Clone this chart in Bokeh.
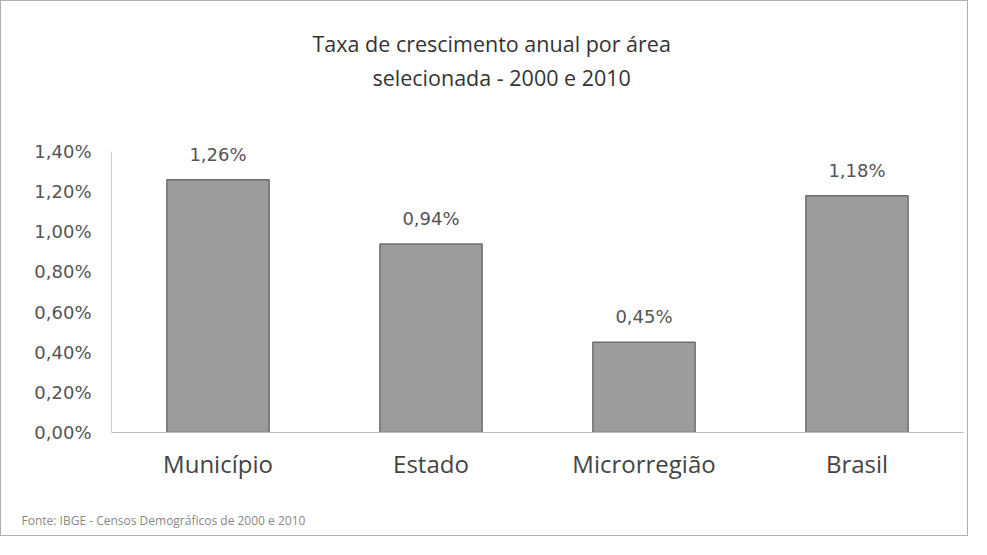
from bokeh.plotting import figure
from bokeh.models import ColumnDataSource, FixedTicker, LabelSet, Title
from bokeh.core.properties import value
from bokeh.embed import file_html
from bokeh.resources import INLINE

categories = ["Município", "Estado", "Microrregião", "Brasil"]
values = [1.26, 0.94, 0.45, 1.18]
value_labels = ["1,26%", "0,94%", "0,45%", "1,18%"]
tick_values = [0.0, 0.2, 0.4, 0.6, 0.8, 1.0, 1.2, 1.4]
tick_labels = ["0,00%", "0,20%", "0,40%", "0,60%", "0,80%", "1,00%", "1,20%", "1,40%"]
title_lines = ["Taxa de crescimento anual por área", "selecionada - 2000 e 2010"]
source_note = "Fonte: IBGE - Censos Demográficos de 2000 e 2010"

src = ColumnDataSource(data=dict(cat=categories, val=values, lab=value_labels))

p = figure(
    x_range=categories, y_range=(0, 1.55),
    width=968, height=536,
    output_backend="svg", toolbar_location=None,
    min_border_left=110, min_border_right=6,
    min_border_top=30, min_border_bottom=20,
    background_fill_color="white", border_fill_color="white",
    outline_line_color=None,
)
p.title.visible = False
p.styles = {"border": "1px solid #b0b0b0"}

p.vbar(x="cat", top="val", width=0.48, source=src,
       fill_color="#9c9c9c", line_color="#6e6e6e", line_width=1.5)

labels = LabelSet(x="cat", y="val", text="lab", source=src,
                  text_align="center", text_baseline="bottom", y_offset=15,
                  text_font=value("DejaVu Sans"), text_font_size=value("18px"),
                  text_color=value("#555555"))
p.add_layout(labels)

p.yaxis.ticker = FixedTicker(ticks=tick_values)
p.yaxis.major_label_overrides = {t: l for t, l in zip(tick_values, tick_labels)}
p.yaxis.bounds = (0, 1.4)
p.yaxis.major_label_text_font = "DejaVu Sans"
p.yaxis.major_label_text_font_size = "18px"
p.yaxis.major_label_text_color = "#555555"
p.yaxis.major_tick_line_color = None
p.yaxis.minor_tick_line_color = None
p.yaxis.axis_line_color = "#cccccc"
p.yaxis.major_label_standoff = 14

p.xaxis.major_label_text_font = "Open Sans"
p.xaxis.major_label_text_font_size = "24px"
p.xaxis.major_label_text_color = "#444444"
p.xaxis.major_tick_line_color = None
p.xaxis.axis_line_color = "#bbbbbb"
p.xaxis.major_label_standoff = 8

p.xgrid.grid_line_color = None
p.ygrid.grid_line_color = None

# Title: two lines stacked above the frame, with blank spacer panels
spacer_low = Title(text=" ", text_font_size="1px", standoff=23)
t2 = Title(text=title_lines[1], align="left", offset=261, text_font="Open Sans",
           text_font_size="21.5px", text_font_style="normal", text_color="#333333",
           standoff=7)
t1 = Title(text=title_lines[0], align="left", offset=201, text_font="Open Sans",
           text_font_size="21.5px", text_font_style="normal", text_color="#333333",
           standoff=0)
spacer_top = Title(text=" ", text_font_size="1px", standoff=22)
p.add_layout(spacer_low, "above")
p.add_layout(t2, "above")
p.add_layout(t1, "above")
p.add_layout(spacer_top, "above")

spacer_bottom = Title(text=" ", text_font_size="1px", standoff=16)
note = Title(text=source_note, align="left", offset=-90, text_font="Open Sans",
             text_font_size="12px", text_font_style="normal", text_color="#888888",
             standoff=17)
p.add_layout(spacer_bottom, "below")
p.add_layout(note, "below")

open("out.html", "w").write(file_html(p, INLINE))
